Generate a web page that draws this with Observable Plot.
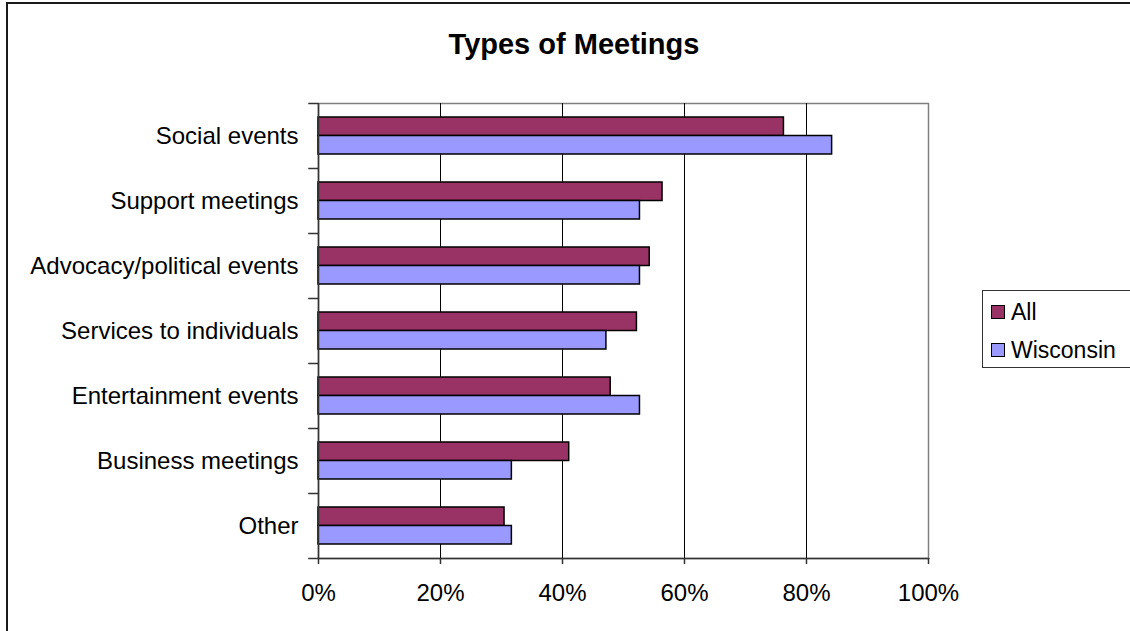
<!DOCTYPE html>
<html>
<head>
<meta charset="utf-8">
<script src="https://cdn.jsdelivr.net/npm/d3@7"></script>
<script src="https://cdn.jsdelivr.net/npm/@observablehq/plot@0.6"></script>
<style>
  html, body { margin: 0; padding: 0; background: #fff; overflow: hidden; }
  #wrap { position: relative; width: 1130px; height: 631px; overflow: hidden; font-family: "Liberation Sans", Arial, sans-serif; }
  #border { position: absolute; left: 6px; top: 2px; width: 1300px; height: 800px; border-top: 2px solid #1a1a1a; border-left: 2px solid #1a1a1a; box-sizing: border-box; }
  #chart { position: absolute; left: 0; top: 0; }
  #title { position: absolute; left: 574px; top: 30px; transform: translateX(-50%); font-size: 29px; line-height: 29px; font-weight: bold; white-space: nowrap; color: #000; }
  #legend { position: absolute; left: 982px; top: 290px; width: 300px; height: 78px; border-top: 1px solid #333; border-left: 1px solid #333; border-bottom: 1px solid #333; box-sizing: border-box; background: #fff; }
  .item { position: absolute; left: 8px; font-size: 23px; line-height: 23px; white-space: nowrap; color: #000; }
  .sw { display: inline-block; width: 12px; height: 12px; border: 1px solid #000; margin-right: 6px; vertical-align: 1px; }
</style>
</head>
<body>
<div id="wrap">
  <div id="border"></div>
  <div id="chart"></div>
  <div id="title"></div>
  <div id="legend"></div>
</div>
<script>
const title = "Types of Meetings";
const categories = ["Social events", "Support meetings", "Advocacy/political events", "Services to individuals", "Entertainment events", "Business meetings", "Other"];
const seriesNames = ["All", "Wisconsin"];
const allValues = [76.3, 56.4, 54.3, 52.2, 47.9, 41.1, 30.5];
const wisconsinValues = [84.2, 52.7, 52.7, 47.2, 52.7, 31.7, 31.7];
const seriesColors = ["#993366", "#9999FF"];
const xTicks = [0, 20, 40, 60, 80, 100];
const gridTicks = [20, 40, 60, 80];

const allData = categories.map((c, i) => ({category: c, series: seriesNames[0], value: allValues[i]}));
const wiData = categories.map((c, i) => ({category: c, series: seriesNames[1], value: wisconsinValues[i]}));

const plot = Plot.plot({
  width: 1130,
  height: 631,
  marginLeft: 318,
  marginRight: 202,
  marginTop: 103,
  marginBottom: 73,
  style: {fontFamily: "'Liberation Sans', Arial, sans-serif", fontSize: "24px", color: "#000", background: "transparent", overflow: "visible"},
  x: {domain: [0, 100], axis: null, label: null},
  y: {domain: categories, padding: 0, axis: null, label: null},
  color: {domain: seriesNames, range: seriesColors},
  marks: [
    Plot.frame({stroke: "#808080", strokeWidth: 1.5}),
    Plot.ruleX(gridTicks, {stroke: "#000", strokeWidth: 1}),
    Plot.barX(allData, {x: "value", y: "category", fill: "series", stroke: "#000", strokeWidth: 1.5, insetTop: 14, insetBottom: 32.5}),
    Plot.barX(wiData, {x: "value", y: "category", fill: "series", stroke: "#000", strokeWidth: 1.5, insetTop: 32.5, insetBottom: 14}),
    Plot.ruleX([0], {stroke: "#333", strokeWidth: 1.5}),
    Plot.frame({anchor: "bottom", stroke: "#333", strokeWidth: 1.5}),
    Plot.ruleY(categories, {y: d => d, x1: -1.6, x2: 0, dy: -32.5, stroke: "#333", strokeWidth: 1.5}),
    Plot.ruleY(categories.slice(-1), {y: d => d, x1: -1.6, x2: 0, dy: 32.5, stroke: "#333", strokeWidth: 1.5}),
    Plot.axisX({ticks: xTicks, tickFormat: d => d + "%", tickSize: 6, tickPadding: 19, stroke: "#333", strokeWidth: 1.5, fontSize: 24, label: null}),
    Plot.axisY({tickSize: 0, tickPadding: 20, fontSize: 24, label: null})
  ]
});
document.getElementById("chart").appendChild(plot);
document.getElementById("title").textContent = title;

const legend = document.getElementById("legend");
const itemTops = [10, 48];
seriesNames.forEach((name, i) => {
  const div = document.createElement("div");
  div.className = "item";
  div.style.top = itemTops[i] + "px";
  const sw = document.createElement("span");
  sw.className = "sw";
  sw.style.background = seriesColors[i];
  div.appendChild(sw);
  div.appendChild(document.createTextNode(name));
  legend.appendChild(div);
});
</script>
</body>
</html>
